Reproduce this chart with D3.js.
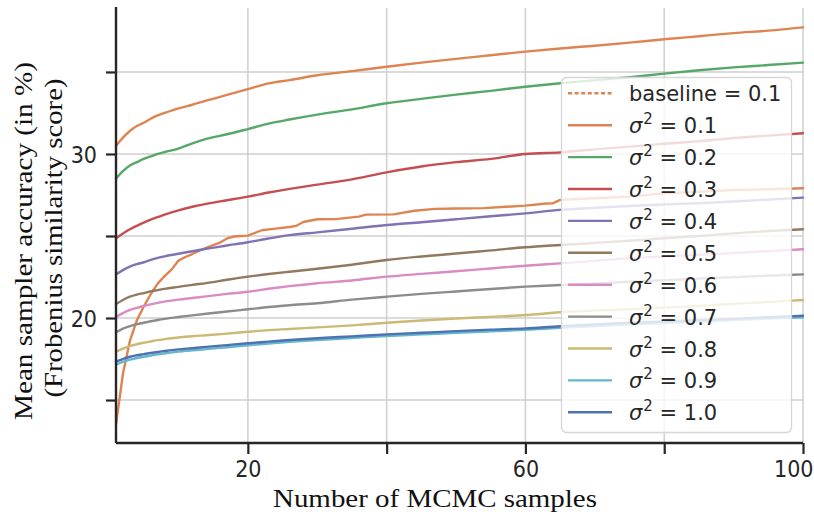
<!DOCTYPE html>
<html>
<head>
<meta charset="utf-8">
<script src="https://cdn.jsdelivr.net/npm/d3@7"></script>
<style>
  body { margin: 0; background: #fff; }
  svg { display: block; }
</style>
</head>
<body>
<svg></svg>
<script>
var width = 814,
    height = 523;

// number of MCMC samples where the sigma^2 curves were read
var samples = [1, 2, 3, 4, 5, 6, 7, 8, 10, 12, 14, 17, 20, 23, 26, 30, 35, 40, 45, 50, 55, 60, 65, 70, 75, 80, 85, 90, 95, 100];

var acc01 = [30.5, 31.0, 31.4, 31.7, 31.9, 32.15, 32.35, 32.5, 32.78, 33.0, 33.25, 33.6, 33.95, 34.3, 34.5, 34.8, 35.05, 35.32, 35.57, 35.8, 36.02, 36.24, 36.43, 36.6, 36.79, 36.99, 37.18, 37.37, 37.52, 37.72];
var acc02 = [28.5, 28.95, 29.3, 29.5, 29.7, 29.85, 30.0, 30.12, 30.33, 30.65, 30.92, 31.2, 31.52, 31.85, 32.1, 32.4, 32.72, 33.09, 33.36, 33.62, 33.85, 34.1, 34.31, 34.5, 34.68, 34.9, 35.1, 35.28, 35.42, 35.57];
var acc03 = [24.86, 25.15, 25.41, 25.62, 25.82, 26.0, 26.15, 26.3, 26.56, 26.78, 26.96, 27.18, 27.4, 27.65, 27.87, 28.13, 28.45, 28.88, 29.24, 29.5, 29.7, 30.0, 30.1, 30.28, 30.45, 30.62, 30.78, 30.97, 31.12, 31.26];
var acc04 = [22.66, 22.92, 23.13, 23.28, 23.4, 23.55, 23.67, 23.76, 23.92, 24.07, 24.22, 24.42, 24.62, 24.85, 25.05, 25.22, 25.44, 25.67, 25.84, 26.02, 26.2, 26.38, 26.59, 26.72, 26.83, 26.92, 27.0, 27.1, 27.22, 27.34];
var acc05 = [20.85, 21.1, 21.3, 21.43, 21.52, 21.62, 21.7, 21.78, 21.9, 22.02, 22.13, 22.33, 22.52, 22.68, 22.82, 23.0, 23.25, 23.54, 23.75, 23.93, 24.12, 24.31, 24.45, 24.58, 24.71, 24.86, 25.0, 25.16, 25.3, 25.41];
var acc06 = [20.08, 20.3, 20.49, 20.62, 20.73, 20.83, 20.92, 21.0, 21.12, 21.22, 21.32, 21.47, 21.6, 21.78, 21.94, 22.12, 22.29, 22.52, 22.69, 22.85, 23.02, 23.19, 23.33, 23.48, 23.64, 23.75, 23.85, 23.96, 24.08, 24.19];
var acc07 = [19.13, 19.35, 19.51, 19.62, 19.71, 19.8, 19.88, 19.95, 20.06, 20.16, 20.26, 20.4, 20.53, 20.67, 20.78, 20.9, 21.12, 21.3, 21.47, 21.62, 21.77, 21.91, 22.01, 22.11, 22.21, 22.3, 22.4, 22.49, 22.58, 22.66];
var acc08 = [17.94, 18.14, 18.29, 18.4, 18.49, 18.57, 18.65, 18.71, 18.81, 18.89, 18.95, 19.05, 19.16, 19.26, 19.33, 19.43, 19.55, 19.71, 19.85, 19.97, 20.07, 20.18, 20.35, 20.45, 20.53, 20.63, 20.74, 20.86, 20.98, 21.1];
var acc09 = [17.15, 17.32, 17.46, 17.56, 17.64, 17.71, 17.78, 17.84, 17.95, 18.03, 18.1, 18.22, 18.34, 18.45, 18.55, 18.66, 18.78, 18.9, 19.0, 19.1, 19.19, 19.28, 19.4, 19.5, 19.61, 19.7, 19.79, 19.88, 19.97, 20.05];
var acc10 = [17.34, 17.5, 17.64, 17.73, 17.8, 17.87, 17.93, 17.99, 18.09, 18.16, 18.24, 18.35, 18.46, 18.56, 18.66, 18.77, 18.88, 19.0, 19.1, 19.2, 19.29, 19.37, 19.5, 19.6, 19.71, 19.79, 19.87, 19.95, 20.05, 20.14];

// baseline curve is more jagged, so it has its own sample points
var baselineSamples = [1, 2, 3, 4, 5, 6, 7, 8, 9, 10, 11, 12, 13, 14, 15, 16, 17, 18, 19, 20, 22, 24, 26, 27, 28, 30, 33, 36, 37, 41, 44, 47, 50, 54, 60, 63, 64, 65, 70, 75, 80, 85, 90, 95, 100];
var baselineAcc = [13.5, 16.6, 18.6, 19.85, 20.7, 21.45, 22.1, 22.55, 22.95, 23.5, 23.72, 23.9, 24.1, 24.27, 24.45, 24.6, 24.85, 24.97, 25.0, 25.02, 25.35, 25.45, 25.55, 25.62, 25.85, 26.02, 26.04, 26.18, 26.3, 26.32, 26.54, 26.65, 26.68, 26.7, 26.85, 26.98, 27.0, 27.2, 27.3, 27.4, 27.6, 27.7, 27.8, 27.85, 27.91];

var sigmaLabels = ["0.1", "0.2", "0.3", "0.4", "0.5", "0.6", "0.7", "0.8", "0.9", "1.0"];
var sigmaColors = ["#DD8452", "#55A868", "#C44E52", "#8172B3", "#937860", "#DA8BC3", "#8C8C8C", "#CCB974", "#64B5CD", "#4C72B0"];
var baselineLabel = "baseline = 0.1";

var xTicks = [20, 40, 60, 80, 100];
var xTickLabels = [20, 60, 100];
var yTicks = [15, 20, 25, 30, 35];
var yTickLabels = [20, 30];

var sigmaSeries = [acc01, acc02, acc03, acc04, acc05, acc06, acc07, acc08, acc09, acc10];

var svg = d3.select("svg")
    .attr("width", width)
    .attr("height", height);

var x = d3.scaleLinear().domain([1, 100]).range([116, 803]);
var y = d3.scaleLinear().domain([12.38, 38.96]).range([443, 7]);

var ink = "#262626";
var tickFont = "'DejaVu Sans Condensed', 'DejaVu Sans', sans-serif";
var serifFont = "'Liberation Serif', 'DejaVu Serif', serif";

// grid
var grid = svg.append("g").attr("class", "grid");
grid.selectAll("line.h")
    .data(yTicks)
    .enter().append("line")
    .attr("class", "h")
    .attr("x1", x(1)).attr("x2", x(100))
    .attr("y1", y).attr("y2", y)
    .attr("stroke", "#cfcfcf")
    .attr("stroke-width", 1.5);
grid.selectAll("line.v")
    .data(xTicks)
    .enter().append("line")
    .attr("class", "v")
    .attr("x1", x).attr("x2", x)
    .attr("y1", 8).attr("y2", y(12.38))
    .attr("stroke", "#cfcfcf")
    .attr("stroke-width", 1.5);

// lines
var line = d3.line()
    .x(function (d) { return x(d[0]); })
    .y(function (d) { return y(d[1]); });

var smoothLine = d3.line()
    .curve(d3.curveMonotoneX)
    .x(function (d) { return x(d[0]); })
    .y(function (d) { return y(d[1]); });

var lines = svg.append("g").attr("class", "lines")
    .attr("fill", "none")
    .attr("stroke-width", 2.4)
    .attr("stroke-linejoin", "round")
    .attr("stroke-linecap", "round");

lines.append("path")
    .attr("d", line(d3.zip(baselineSamples, baselineAcc)))
    .attr("stroke", sigmaColors[0]);

lines.selectAll("path.sigma")
    .data(sigmaSeries)
    .enter().append("path")
    .attr("class", "sigma")
    .attr("d", function (d) { return smoothLine(d3.zip(samples, d)); })
    .attr("stroke", function (d, i) { return sigmaColors[i]; });

// axes
var xAxis = d3.axisBottom(x)
    .tickValues(xTicks)
    .tickSize(11)
    .tickPadding(6)
    .tickFormat(function (d) { return xTickLabels.indexOf(d) >= 0 ? d : ""; });

var yAxis = d3.axisLeft(y)
    .tickValues(yTicks)
    .tickSize(10)
    .tickPadding(9)
    .tickFormat(function (d) { return yTickLabels.indexOf(d) >= 0 ? d : ""; });

function styleAxis(g) {
    g.select(".domain").attr("stroke", ink).attr("stroke-width", 2.4);
    g.selectAll(".tick line").attr("stroke", ink).attr("stroke-width", 2.2);
    g.selectAll(".tick text")
        .attr("fill", ink)
        .style("font-family", tickFont)
        .style("font-stretch", "condensed")
        .style("font-size", "23px");
}

var gx = svg.append("g")
    .attr("transform", "translate(0," + y(12.38) + ")")
    .call(xAxis)
    .call(styleAxis);
gx.select(".domain").attr("d", "M" + x(1) + ",0H" + x(100));
gx.selectAll(".tick text").attr("dy", "0.72em");
// last label sits against the right edge, as in the original
gx.selectAll(".tick text")
    .filter(function (d) { return d === 100; })
    .attr("text-anchor", "end")
    .attr("x", 10);

var gy = svg.append("g")
    .attr("transform", "translate(" + x(1) + ",0)")
    .call(yAxis)
    .call(styleAxis);
gy.select(".domain").attr("d", "M0," + y(38.96) + "V" + y(12.38));
gy.selectAll(".tick text").attr("dy", "0.36em");

// axis titles
svg.append("text")
    .attr("x", 435)
    .attr("y", 507)
    .attr("text-anchor", "middle")
    .attr("textLength", 324)
    .attr("lengthAdjust", "spacingAndGlyphs")
    .style("font-family", serifFont)
    .style("font-size", "25px")
    .attr("fill", "#111")
    .text("Number of MCMC samples");

svg.append("text")
    .attr("transform", "translate(32,241) rotate(-90)")
    .attr("text-anchor", "middle")
    .attr("textLength", 358)
    .attr("lengthAdjust", "spacingAndGlyphs")
    .style("font-family", serifFont)
    .style("font-size", "25px")
    .attr("fill", "#111")
    .text("Mean sampler accuracy (in %)");

svg.append("text")
    .attr("transform", "translate(62,238) rotate(-90)")
    .attr("text-anchor", "middle")
    .attr("textLength", 319)
    .attr("lengthAdjust", "spacingAndGlyphs")
    .style("font-family", serifFont)
    .style("font-size", "25px")
    .attr("fill", "#111")
    .text("(Frobenius similarity score)");

// legend
var legend = svg.append("g").attr("class", "legend");

legend.append("rect")
    .attr("x", 561.5).attr("y", 77.5)
    .attr("width", 230).attr("height", 355)
    .attr("rx", 5)
    .attr("fill", "#fff")
    .attr("fill-opacity", 0.8)
    .attr("stroke", "#d6d6d6")
    .attr("stroke-width", 1.3);

var rowY = function (i) { return 93.3 + i * 31.9; };

var items = [{ label: baselineLabel, color: sigmaColors[0], dash: "4,2.6", sigma: false }]
    .concat(sigmaLabels.map(function (s, i) {
        return { label: s, color: sigmaColors[i], dash: null, sigma: true };
    }));

var row = legend.selectAll("g.item")
    .data(items)
    .enter().append("g")
    .attr("class", "item")
    .attr("transform", function (d, i) { return "translate(0," + rowY(i) + ")"; });

row.append("line")
    .attr("x1", 568).attr("x2", 612)
    .attr("y1", 0).attr("y2", 0)
    .attr("stroke", function (d) { return d.color; })
    .attr("stroke-width", 2.4)
    .attr("stroke-dasharray", function (d) { return d.dash; });

var label = row.append("text")
    .attr("x", 629)
    .attr("y", 8)
    .attr("fill", ink)
    .style("font-family", "'DejaVu Sans', sans-serif")
    .style("font-size", "21px");

label.filter(function (d) { return !d.sigma; })
    .text(function (d) { return d.label; });

var sig = label.filter(function (d) { return d.sigma; });
sig.append("tspan")
    .style("font-style", "italic")
    .text("\u03c3");
sig.append("tspan")
    .attr("dy", -9)
    .attr("dx", 1)
    .style("font-size", "15px")
    .text("2");
sig.append("tspan")
    .attr("dy", 9)
    .text(function (d) { return " = " + d.label; });
</script>
</body>
</html>
